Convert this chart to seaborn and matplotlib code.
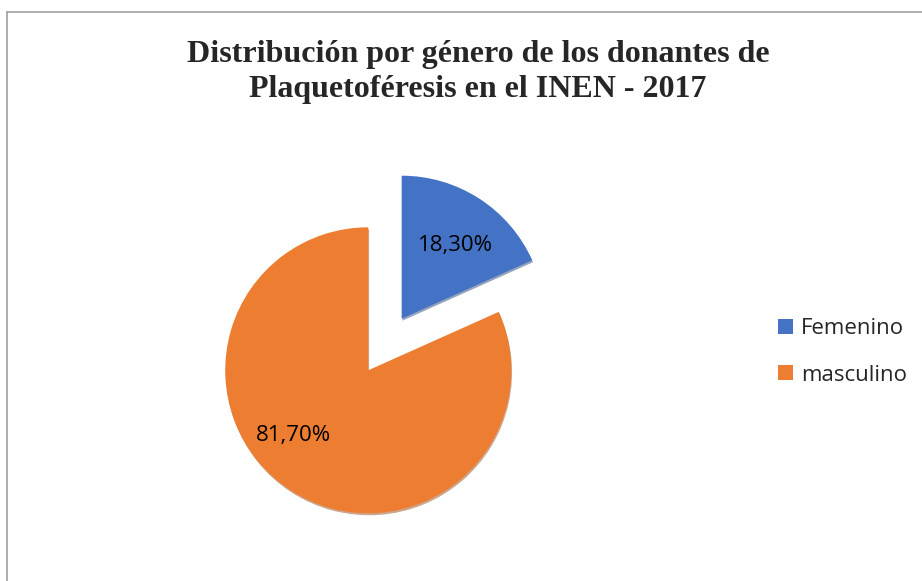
import matplotlib
matplotlib.use("Agg")
import matplotlib.pyplot as plt
import seaborn as sns

categories = ["Femenino", "masculino"]
values = [18.3, 81.7]
colors = ["#4472C4", "#ED7D31"]
title = "Distribución por género de los donantes de\nPlaquetoféresis en el INEN - 2017"

sns.set_theme(style="white")
plt.rcParams["font.family"] = ["Open Sans", "DejaVu Sans"]

W, H = 922, 581
fig = plt.figure(figsize=(W / 100, H / 100), dpi=100)
ax = fig.add_axes([0, 0, 1, 1])

R = 143
wedges, texts, autotexts = ax.pie(
    values,
    colors=colors,
    startangle=90,
    counterclock=False,
    explode=[0.33 * R, 0.10 * R],
    radius=R,
    center=(376, H - 358.3),
    autopct=lambda p: f"{p:.2f}".replace(".", ",") + "%",
    pctdistance=0.63,
    textprops=dict(fontsize=16, color="black"),
    wedgeprops=dict(linewidth=0),
    shadow=dict(ox=0.6, oy=-1.4, shade=0.35),
    frame=True,
)
ax.set_xlim(0, W)
ax.set_ylim(0, H)
ax.set_aspect("equal")
ax.axis("off")

# nudge labels toward reference placement
x, y = autotexts[0].get_position()
autotexts[0].set_position((x + 5, y - 2))
x, y = autotexts[1].get_position()
autotexts[1].set_position((x - 26, y + 10))

fig.text(478 / W, 1 - 40 / H, title, ha="center", va="top",
         fontsize=23, fontweight="bold", family="Liberation Serif",
         linespacing=1.25)

leg = ax.legend(wedges, categories, loc="upper left",
                bbox_to_anchor=(758 / W, 1 - 298 / H),
                bbox_transform=fig.transFigure,
                frameon=False, fontsize=16, labelspacing=1.15,
                handlelength=0.68, handleheight=0.68, handletextpad=0.35)

# outer chart frame (partially cropped)
fig.add_artist(plt.Line2D([7 / W, 1], [1 - 12 / H, 1 - 12 / H],
                          transform=fig.transFigure, color="#A0A0A0", lw=1.2))
fig.add_artist(plt.Line2D([7 / W, 7 / W], [0, 1 - 12 / H],
                          transform=fig.transFigure, color="#A0A0A0", lw=1.2))

fig.savefig("out.png", dpi=100, facecolor="white")
